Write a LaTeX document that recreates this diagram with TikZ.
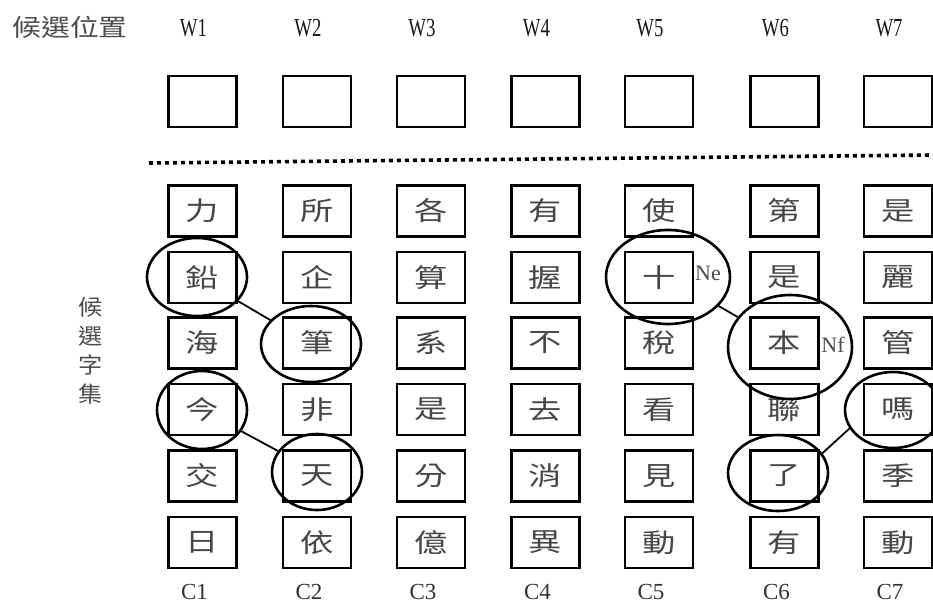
\documentclass[tikz,border=0pt]{standalone}
\usepackage{graphicx}
\usepackage{fontspec}
\setmainfont{Liberation Serif}
\newfontfamily\cjk{Noto Sans CJK TC}
\usetikzlibrary{shapes.geometric}
\newcommand\widechar[1]{\scalebox{1.28}[1]{#1}}
\newcommand\narrowlat[1]{\scalebox{0.72}[1]{#1}}
\tikzset{
  cbox/.style={draw, line width=2.2pt, minimum width=68pt, minimum height=51pt, inner sep=0pt, text=black!72, font=\cjk\fontsize{26}{26}\selectfont},
  ring/.style={draw, ellipse, line width=2.6pt, inner sep=0pt},
  link/.style={line width=1.8pt},
  wlab/.style={text=black!90, font=\fontsize{26}{26}\selectfont, inner sep=0pt},
  clab/.style={text=black!80, font=\fontsize{23}{23}\selectfont, inner sep=0pt},
  tag/.style={text=black!70, font=\fontsize{22}{22}\selectfont, inner sep=0pt},
  headcjk/.style={text=black!70, font=\cjk\fontsize{24}{24}\selectfont, inner sep=0pt}
}
\begin{document}
\begin{tikzpicture}[x=1pt,y=-1pt]
\useasboundingbox (0,0) rectangle (933,604);
\fill[white] (0,0) rectangle (933,604);

% header labels
\node[headcjk] (hpos) at (70,27) {\scalebox{1.2}[1]{候選位置}};
\node[headcjk, align=center, font=\cjk\fontsize{22}{29}\selectfont] (hset) at (90.5,351) {\scalebox{1.1}[1]{候}\\\scalebox{1.1}[1]{選}\\\scalebox{1.1}[1]{字}\\\scalebox{1.1}[1]{集}};

% column data
\foreach \i/\cx in {1/202.5, 2/317, 3/431, 4/545.5, 5/659, 6/784.5, 7/898}{
  \node[wlab] (w\i) at (\cx-9,28) {\narrowlat{W\i}};
  \node[cbox] (t\i) at (\cx,101.5) {};
  \node[clab] (c\i) at (\cx-8,592) {C\i};
}

% candidate characters
\foreach \i/\cx/\a/\b/\c/\d/\e/\f in {
  1/202.5/力/鉛/海/今/交/日,
  2/317/所/企/筆/非/天/依,
  3/431/各/算/系/是/分/億,
  4/545.5/有/握/不/去/消/異,
  5/659/使/十/稅/看/見/動,
  6/784.5/第/是/本/聯/了/有,
  7/898/是/麗/管/嗎/季/動}{
  \node[cbox] (b\i-1) at (\cx,211) {\widechar{\a}};
  \node[cbox] (b\i-2) at (\cx,277.5) {\widechar{\b}};
  \node[cbox] (b\i-3) at (\cx,343) {\widechar{\c}};
  \node[cbox] (b\i-4) at (\cx,409.5) {\widechar{\d}};
  \node[cbox] (b\i-5) at (\cx,476) {\widechar{\e}};
  \node[cbox] (b\i-6) at (\cx,542.5) {\widechar{\f}};
}

% dotted separator
\coordinate (dl) at (149,163);
\coordinate (dr) at (933,155);
\draw[line width=3.6pt, dash pattern=on 4pt off 4pt] (dl) -- (dr);

% selection ellipses
\node[ring, minimum width=100pt, minimum height=78pt] (e1) at (197,277) {};
\node[ring, minimum width=100pt, minimum height=76pt] (e2) at (311,344) {};
\node[ring, minimum width=90pt, minimum height=78pt] (e3) at (202,410) {};
\node[ring, minimum width=90pt, minimum height=76pt] (e4) at (317,472) {};
\node[ring, minimum width=124pt, minimum height=94pt] (e5) at (668,277) {};
\node[ring, minimum width=124pt, minimum height=104pt] (e6) at (790,347) {};
\node[ring, minimum width=100pt, minimum height=76pt] (e7) at (778,473) {};
\node[ring, minimum width=96pt, minimum height=76pt] (e8) at (893,410) {};

% tags
\node[tag] (ne) at (708,273) {Ne};
\node[tag] (nf) at (833,345) {Nf};

% links
\draw[link] (e1) -- (e2);
\draw[link] (e3) -- (e4);
\draw[link] (e5) -- (e6);
\draw[link] (e7.24) -- (e8.203);
\end{tikzpicture}
\end{document}
